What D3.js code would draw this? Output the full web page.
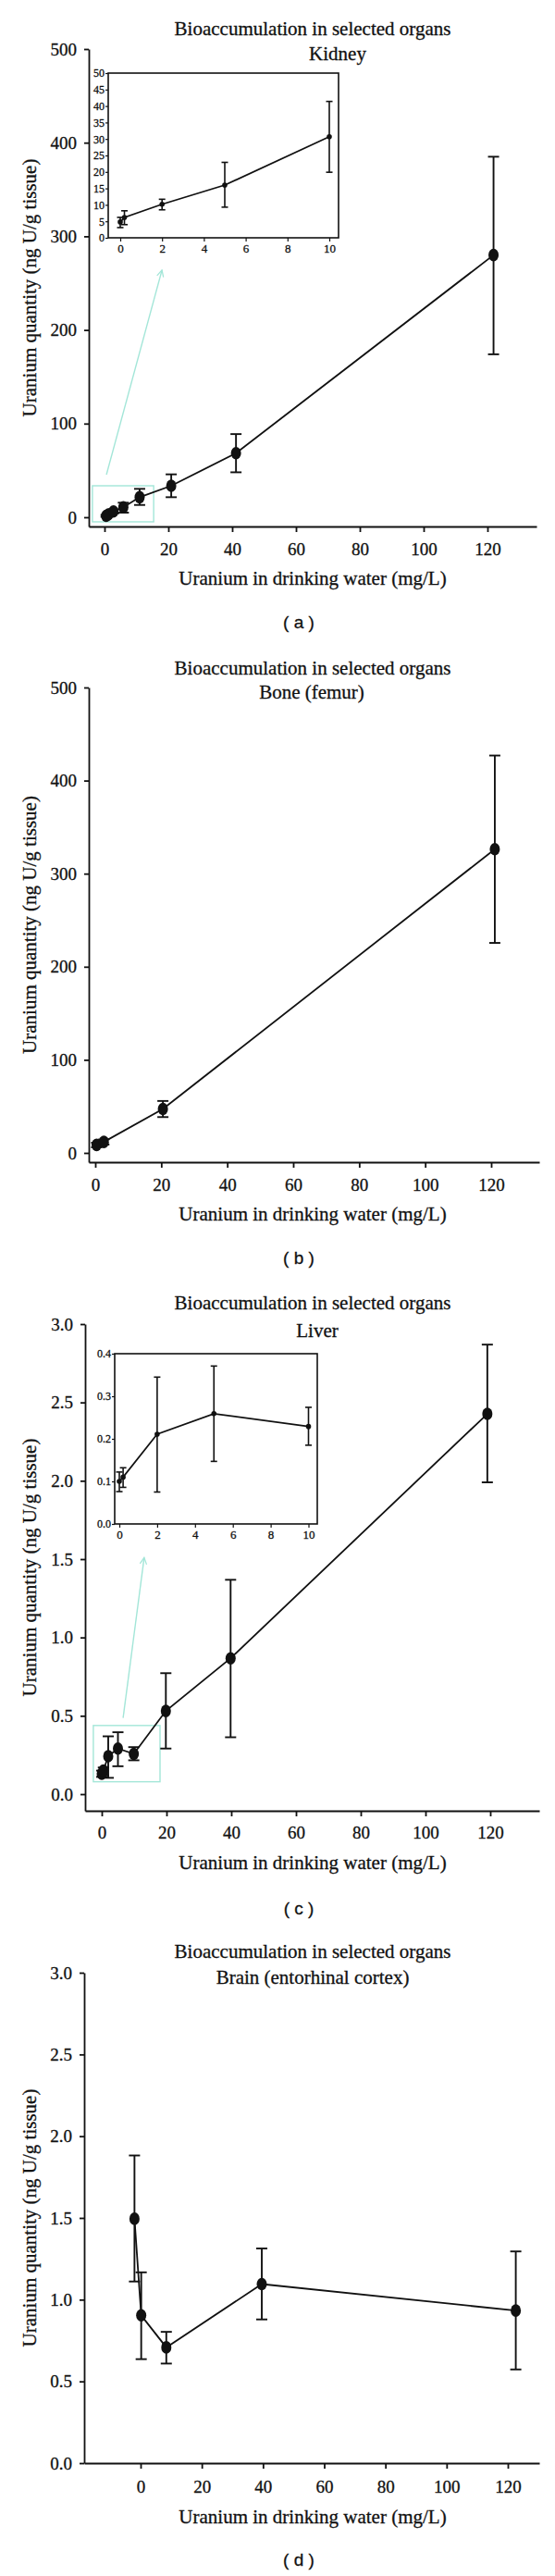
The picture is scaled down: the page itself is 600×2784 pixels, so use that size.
<!DOCTYPE html>
<html>
<head>
<meta charset="utf-8">
<script src="https://cdnjs.cloudflare.com/ajax/libs/d3/7.8.5/d3.min.js"></script>
<style>
  body { margin: 0; background: #fff; }
  svg text { font-family: "Liberation Serif", "DejaVu Serif", serif; fill: #111; stroke: #111; stroke-width: 0.3px; }
  svg text.plabel { font-family: "Liberation Sans", Arial, sans-serif; }
</style>
</head>
<body>
<svg id="chart" width="600" height="2784"></svg>
<script>
'use strict';

// ---- data ----
var titleText = 'Bioaccumulation in selected organs';
var organs = ['Kidney', 'Bone (femur)', 'Liver', 'Brain (entorhinal cortex)'];
var panelLetters = ['a', 'b', 'c', 'd'];

var xTicks = [0, 20, 40, 60, 80, 100, 120];
var yTicksNg = [0, 100, 200, 300, 400, 500];
var yTicksSmall = [0, 0.5, 1.0, 1.5, 2.0, 2.5, 3.0];

var kidneyX = [0.5, 1.2, 2.8, 5.9, 11, 20.9, 41.2, 121.9];
var kidneyY = [1.5, 3, 6.2, 10.6, 21.4, 33.6, 68.4, 280];
var kidneyLo = [0.5, 1.5, 4, 4.9, 13.1, 21.4, 48, 174];
var kidneyHi = [2.5, 4.5, 8.5, 15.5, 30.3, 45.8, 88.8, 385];

var kidneyInsetX = [0, 0.2, 2, 5, 10];
var kidneyInsetY = [4.8, 6.2, 10.2, 16.0, 30.7];
var kidneyInsetLo = [3.1, 4.0, 8.5, 9.3, 19.9];
var kidneyInsetHi = [6.2, 8.2, 11.7, 22.9, 41.4];
var kidneyInsetYTicks = [0, 5, 10, 15, 20, 25, 30, 35, 40, 45, 50];

var boneX = [0.4, 2.6, 20.5, 121.1];
var boneY = [8.6, 11.8, 47.2, 326.3];
var boneLo = [6, 9, 38.5, 225.6];
var boneHi = [11, 14.5, 55.8, 426.9];

var liverX = [0, 0.5, 2, 5, 9.9, 19.8, 39.8, 119.1];
var liverY = [0.13, 0.15, 0.242, 0.291, 0.257, 0.531, 0.867, 2.427];
var liverLo = [0.11, 0.12, 0.104, 0.178, 0.216, 0.291, 0.363, 1.99];
var liverHi = [0.15, 0.17, 0.369, 0.395, 0.30, 0.772, 1.368, 2.869];

var liverInsetX = [0, 0.2, 2, 5, 10];
var liverInsetY = [0.100, 0.110, 0.211, 0.259, 0.229];
var liverInsetLo = [0.076, 0.086, 0.075, 0.147, 0.185];
var liverInsetHi = [0.122, 0.132, 0.345, 0.371, 0.274];
var liverInsetYTicks = [0, 0.1, 0.2, 0.3, 0.4];

var insetXTicks = [0, 2, 4, 6, 8, 10];

var brainX = [-2, 0.2, 8.4, 39.6, 122.6];
var brainY = [1.495, 0.904, 0.708, 1.095, 0.933];
var brainLo = [1.111, 0.636, 0.609, 0.879, 0.573];
var brainHi = [1.882, 1.167, 0.803, 1.313, 1.295];

// zoom box + arrow pointing at the inset, in data units of the main plot
var kidneyZoom = {x0: -3.8, x1: 15.4, y0: -4.9, y1: 33.6, ax0: 0.6, ay0: 45.5, ax1: 18, ay1: 264};
var liverZoom = {x0: -2.6, x1: 18, y0: 0.079, y1: 0.438, ax0: 6.6, ay0: 0.486, ax1: 13.1, ay1: 1.51};

function rows(xs, ys, lo, hi)
{
  return xs.map(function(x, i) { return {x: x, y: ys[i], lo: lo[i], hi: hi[i]}; });
}

// ---- layout ----
var panels = [
  {
    titleY: 38, subY: 65, subX: 365,
    left: 96, right: 580, x0: 113, x120: 527,
    axisY: 569, y0: 559, yTop: 53, yMax: 500, yTicks: yTicksNg, yFmt: d3.format('d'),
    tickY: 600, xTitleY: 632, letterY: 679,
    data: rows(kidneyX, kidneyY, kidneyLo, kidneyHi),
    zoom: kidneyZoom,
    inset: {
      left: 117, right: 366, top: 79, bottom: 257, x0: 130, x10: 356, yMax: 50,
      yTicks: kidneyInsetYTicks, yFmt: d3.format('d'),
      data: rows(kidneyInsetX, kidneyInsetY, kidneyInsetLo, kidneyInsetHi)
    }
  },
  {
    titleY: 729, subY: 755, subX: 337,
    left: 96, right: 583, x0: 103, x120: 531,
    axisY: 1256, y0: 1246, yTop: 743, yMax: 500, yTicks: yTicksNg, yFmt: d3.format('d'),
    tickY: 1287, xTitleY: 1319, letterY: 1366,
    data: rows(boneX, boneY, boneLo, boneHi)
  },
  {
    titleY: 1415, subY: 1445, subX: 343,
    left: 92, right: 583, x0: 110, x120: 530,
    axisY: 1957, y0: 1939, yTop: 1431, yMax: 3, yTicks: yTicksSmall, yFmt: d3.format('.1f'),
    tickY: 1987, xTitleY: 2020, letterY: 2069,
    data: rows(liverX, liverY, liverLo, liverHi),
    zoom: liverZoom,
    inset: {
      left: 124, right: 343, top: 1463, bottom: 1647, x0: 129, x10: 333.5, yMax: 0.4,
      yTicks: liverInsetYTicks, yFmt: d3.format('.1f'),
      data: rows(liverInsetX, liverInsetY, liverInsetLo, liverInsetHi)
    }
  },
  {
    titleY: 2116, subY: 2144, subX: 338,
    left: 91, right: 583, x0: 152, x120: 549,
    axisY: 2662, y0: 2662, yTop: 2132, yMax: 3, yTicks: yTicksSmall, yFmt: d3.format('.1f'),
    tickY: 2694, xTitleY: 2727, letterY: 2773,
    data: rows(brainX, brainY, brainLo, brainHi)
  }
];

var svg = d3.select('#chart');

svg.append('defs').append('marker')
  .attr('id', 'arrowHead')
  .attr('viewBox', '0 0 10 10')
  .attr('refX', 9)
  .attr('refY', 5)
  .attr('markerWidth', 9)
  .attr('markerHeight', 9)
  .attr('markerUnits', 'userSpaceOnUse')
  .attr('orient', 'auto')
  .append('path')
  .attr('d', 'M1,1 L9,5 L1,9')
  .attr('fill', 'none')
  .attr('stroke', '#a3e6d8')
  .attr('stroke-width', 1.4);

function styleAxis(g, size, width)
{
  g.attr('font-size', null).attr('font-family', null);
  g.selectAll('path.domain').attr('stroke', '#111').attr('stroke-width', width);
  g.selectAll('.tick line').attr('stroke', '#111').attr('stroke-width', width);
  g.selectAll('.tick text').style('font-size', size + 'px');
}

function errorBars(g, data, x, y, cap, width)
{
  var eb = g.append('g').attr('stroke', '#111').attr('stroke-width', width);

  data.forEach(function(d)
  {
    eb.append('line')
      .attr('x1', x(d.x)).attr('x2', x(d.x))
      .attr('y1', y(d.lo)).attr('y2', y(d.hi));
    eb.append('line')
      .attr('x1', x(d.x) - cap).attr('x2', x(d.x) + cap)
      .attr('y1', y(d.lo)).attr('y2', y(d.lo));
    eb.append('line')
      .attr('x1', x(d.x) - cap).attr('x2', x(d.x) + cap)
      .attr('y1', y(d.hi)).attr('y2', y(d.hi));
  });
}

function drawInset(p)
{
  var s = p.inset;
  var x = d3.scaleLinear().domain([0, 10]).range([s.x0, s.x10]);
  x.domain([x.invert(s.left), x.invert(s.right)]).range([s.left, s.right]);
  var y = d3.scaleLinear().domain([0, s.yMax]).range([s.bottom, s.top]);

  var g = svg.append('g');

  g.append('rect')
    .attr('x', s.left).attr('y', s.top)
    .attr('width', s.right - s.left).attr('height', s.bottom - s.top)
    .attr('fill', '#fff').attr('stroke', '#111').attr('stroke-width', 1.6);

  var xa = g.append('g')
    .attr('transform', 'translate(0,' + s.bottom + ')')
    .call(d3.axisBottom(x).tickValues(insetXTicks).tickSize(4).tickSizeOuter(0).tickPadding(3));
  styleAxis(xa, 13, 1.2);
  xa.select('path.domain').remove();

  var ya = g.append('g')
    .attr('transform', 'translate(' + s.left + ',0)')
    .call(d3.axisLeft(y).tickValues(s.yTicks).tickFormat(s.yFmt).tickSize(3).tickSizeOuter(0).tickPadding(1));
  styleAxis(ya, 12, 1.2);
  ya.select('path.domain').remove();

  g.append('path')
    .datum(s.data)
    .attr('fill', 'none')
    .attr('stroke', '#111')
    .attr('stroke-width', 1.7)
    .attr('d', d3.line().x(function(d) { return x(d.x); }).y(function(d) { return y(d.y); }));

  errorBars(g, s.data, x, y, 3.5, 1.6);

  g.selectAll('circle.ipt')
    .data(s.data)
    .enter().append('circle')
    .attr('class', 'ipt')
    .attr('cx', function(d) { return x(d.x); })
    .attr('cy', function(d) { return y(d.y); })
    .attr('r', 2.8)
    .attr('fill', '#111');
}

function drawPanel(p, i)
{
  var x = d3.scaleLinear().domain([0, 120]).range([p.x0, p.x120]);
  x.domain([x.invert(p.left), x.invert(p.right)]).range([p.left, p.right]);

  var y = d3.scaleLinear().domain([0, p.yMax]).range([p.y0, p.yTop]);
  y.domain([y.invert(p.axisY), p.yMax]).range([p.axisY, p.yTop]);

  var g = svg.append('g').attr('class', 'panel-' + panelLetters[i]);

  g.append('text')
    .attr('x', 338).attr('y', p.titleY)
    .attr('text-anchor', 'middle')
    .style('font-size', '21px')
    .text(titleText);

  g.append('text')
    .attr('x', p.subX).attr('y', p.subY)
    .attr('text-anchor', 'middle')
    .style('font-size', '21px')
    .text(organs[i]);

  var xa = g.append('g')
    .attr('transform', 'translate(0,' + p.axisY + ')')
    .call(d3.axisBottom(x).tickValues(xTicks).tickSize(6).tickSizeOuter(0));
  styleAxis(xa, 19, 1.8);
  xa.selectAll('.tick text').attr('y', p.tickY - p.axisY).attr('dy', null);

  var ya = g.append('g')
    .attr('transform', 'translate(' + p.left + ',0)')
    .call(d3.axisLeft(y).tickValues(p.yTicks).tickFormat(p.yFmt).tickSize(5).tickSizeOuter(0).tickPadding(8));
  styleAxis(ya, 19, 1.8);

  g.append('text')
    .attr('x', 338).attr('y', p.xTitleY)
    .attr('text-anchor', 'middle')
    .style('font-size', '21px')
    .text('Uranium in drinking water (mg/L)');

  g.append('text')
    .attr('transform', 'translate(39,' + ((p.axisY + p.yTop) / 2) + ') rotate(-90)')
    .attr('text-anchor', 'middle')
    .style('font-size', '21px')
    .text('Uranium quantity (ng U/g tissue)');

  g.append('text')
    .attr('class', 'plabel')
    .attr('x', 323).attr('y', p.letterY)
    .attr('text-anchor', 'middle')
    .style('font-size', '19px')
    .text('( ' + panelLetters[i] + ' )');

  if (p.zoom)
  {
    var z = p.zoom;

    g.append('rect')
      .attr('x', x(z.x0)).attr('y', y(z.y1))
      .attr('width', x(z.x1) - x(z.x0)).attr('height', y(z.y0) - y(z.y1))
      .attr('fill', 'none').attr('stroke', '#a3e6d8').attr('stroke-width', 1.4);

    g.append('line')
      .attr('x1', x(z.ax0)).attr('y1', y(z.ay0))
      .attr('x2', x(z.ax1)).attr('y2', y(z.ay1))
      .attr('stroke', '#a3e6d8').attr('stroke-width', 1.4)
      .attr('marker-end', 'url(#arrowHead)');
  }

  g.append('path')
    .datum(p.data)
    .attr('fill', 'none')
    .attr('stroke', '#111')
    .attr('stroke-width', 1.8)
    .attr('d', d3.line().x(function(d) { return x(d.x); }).y(function(d) { return y(d.y); }));

  errorBars(g, p.data, x, y, 6, 1.9);

  g.selectAll('ellipse.pt')
    .data(p.data)
    .enter().append('ellipse')
    .attr('class', 'pt')
    .attr('cx', function(d) { return x(d.x); })
    .attr('cy', function(d) { return y(d.y); })
    .attr('rx', 5.5)
    .attr('ry', 6.8)
    .attr('fill', '#111');

  if (p.inset)
  {
    drawInset(p);
  }
}

panels.forEach(drawPanel);
</script>
</body>
</html>
